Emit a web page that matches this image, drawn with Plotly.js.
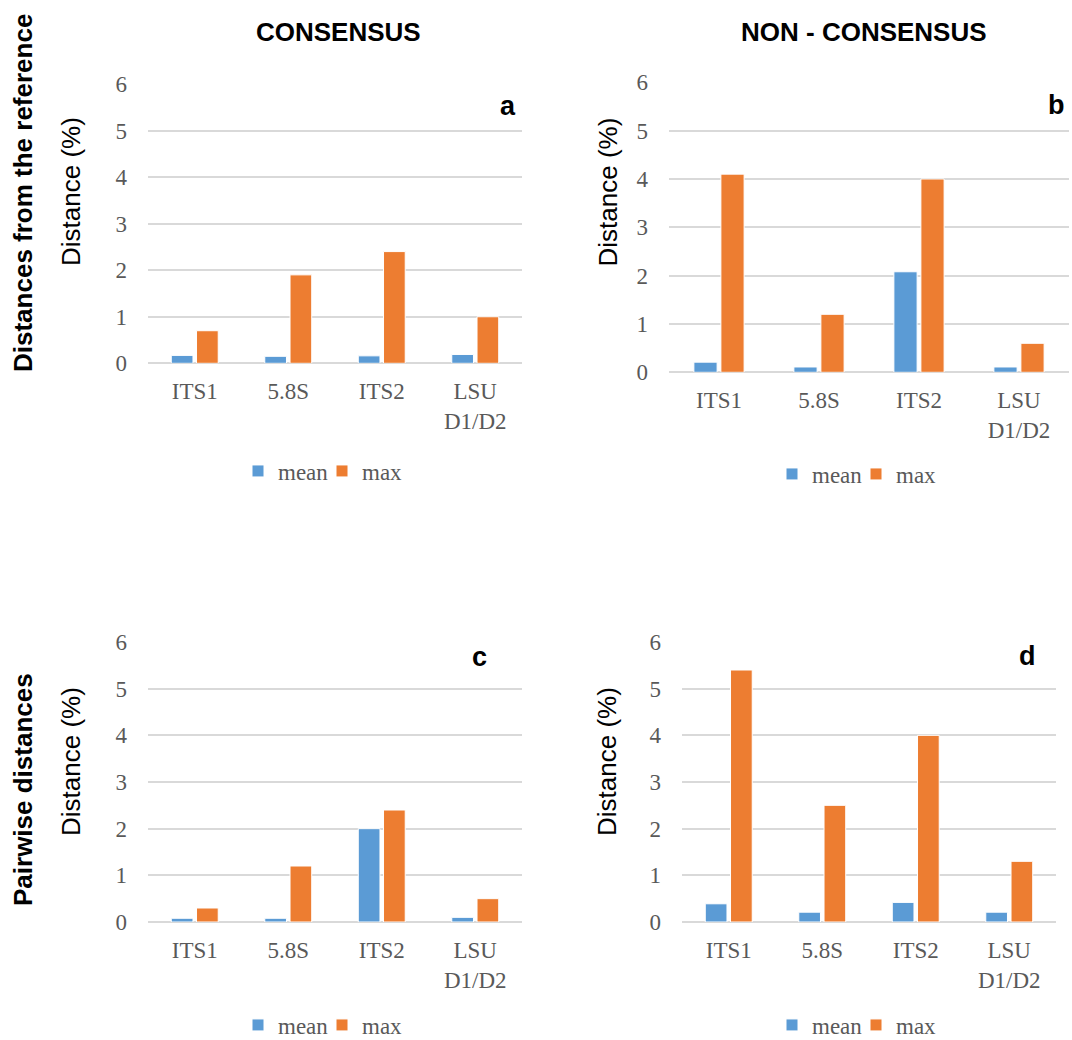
<!DOCTYPE html>
<html>
<head>
<meta charset="utf-8">
<script src="https://cdn.plot.ly/plotly-3.0.1.min.js"></script>
<style>
  html, body { margin: 0; padding: 0; background: #ffffff; }
  #chart { width: 1072px; height: 1040px; }
</style>
</head>
<body>
<div id="chart"></div>
<script>
// Regions of the rDNA cluster
const categories = ['ITS1', '5.8S', 'ITS2', 'LSU<br>D1/D2'];
const seriesNames = ['mean', 'max'];

// a: consensus, distances from the reference
const meanA = [0.17, 0.15, 0.16, 0.19];
const maxA  = [0.7, 1.9, 2.4, 1.0];
// b: non-consensus, distances from the reference
const meanB = [0.21, 0.11, 2.08, 0.11];
const maxB  = [4.1, 1.2, 4.0, 0.6];
// c: consensus, pairwise distances
const meanC = [0.08, 0.08, 2.0, 0.1];
const maxC  = [0.3, 1.2, 2.4, 0.5];
// d: non-consensus, pairwise distances
const meanD = [0.39, 0.21, 0.42, 0.21];
const maxD  = [5.4, 2.5, 4.0, 1.3];

const yTicks = [0, 1, 2, 3, 4, 5, 6];
const panelLetters = ['a', 'b', 'c', 'd'];
const columnTitles = ['CONSENSUS', 'NON - CONSENSUS'];
const rowTitles = ['Distances from the reference', 'Pairwise distances'];
const yTitle = 'Distance (%)';

const BLUE = '#5B9BD5';
const ORANGE = '#ED7D31';
const GRID = '#D9D9D9';
const TICK_GREY = '#595959';
const SERIF = '"Liberation Serif", "Times New Roman", serif';
const SANS = '"Liberation Sans", Arial, sans-serif';

const W = 1072, H = 1040;
const px = v => v / W;
const py = v => 1 - v / H;

// Plot areas in pixels: [left, right, top, bottom]; title = centre of the y-axis title
const panels = [
  { mean: meanA, max: maxA, box: [148, 522, 84, 363.3], legend: [322, 471], letter: [508, 106], title: [71, 192] },
  { mean: meanB, max: maxB, box: [669, 1069, 82.3, 372.3], legend: [856, 474], letter: [1056, 105], title: [607.5, 192] },
  { mean: meanC, max: maxC, box: [148, 522, 642, 922], legend: [322, 1025], letter: [479, 657], title: [71, 762] },
  { mean: meanD, max: maxD, box: [682, 1056, 642, 922], legend: [856, 1025], letter: [1027, 656], title: [607, 762] }
];

const traces = [];
const layout = {
  width: W, height: H,
  margin: { l: 0, r: 0, t: 0, b: 0, autoexpand: false },
  paper_bgcolor: '#ffffff',
  plot_bgcolor: '#ffffff',
  barmode: 'group',
  bargap: 0.46,
  bargroupgap: 0.14,
  font: { family: SERIF, size: 23, color: TICK_GREY },
  annotations: []
};

panels.forEach((p, i) => {
  const n = i + 1;
  const xa = n === 1 ? 'x' : 'x' + n;
  const ya = n === 1 ? 'y' : 'y' + n;
  const lg = n === 1 ? 'legend' : 'legend' + n;
  [p.mean, p.max].forEach((vals, k) => {
    traces.push({
      type: 'bar',
      name: seriesNames[k],
      x: categories,
      y: vals,
      xaxis: xa, yaxis: ya,
      legend: lg,
      marker: { color: k === 0 ? BLUE : ORANGE, line: { color: '#ffffff', width: 1 } },
      hoverinfo: 'x+y+name'
    });
  });

  const [l, r, t, b] = p.box;
  layout['xaxis' + (n === 1 ? '' : n)] = {
    domain: [px(l), px(r)],
    anchor: ya,
    type: 'category',
    showgrid: false,
    showline: false,
    zeroline: false,
    ticks: '',
    ticklabelstandoff: 12,
    tickfont: { family: SERIF, size: 23, color: TICK_GREY },
    fixedrange: true
  };
  layout['yaxis' + (n === 1 ? '' : n)] = {
    domain: [py(b), py(t)],
    anchor: xa,
    range: [0, 6],
    tickmode: 'array',
    tickvals: yTicks,
    ticktext: yTicks.map(String),
    showgrid: true,
    gridcolor: GRID,
    gridwidth: 1.5,
    zeroline: true,
    zerolinecolor: GRID,
    zerolinewidth: 1.5,
    showline: false,
    ticks: '',
    ticklabelstandoff: 20,
    tickfont: { family: SERIF, size: 23, color: TICK_GREY },
    fixedrange: true
  };
  layout[lg] = {
    orientation: 'h',
    x: px(p.legend[0]), xanchor: 'center',
    y: py(p.legend[1]), yanchor: 'middle',
    font: { family: SERIF, size: 23, color: TICK_GREY },
    bgcolor: 'rgba(0,0,0,0)',
    entrywidth: 39,
    entrywidthmode: 'pixels',
    itemclick: false, itemdoubleclick: false,
    traceorder: 'normal'
  };
  // y-axis title
  layout.annotations.push({
    text: yTitle,
    xref: 'paper', yref: 'paper',
    x: px(p.title[0]), y: py(p.title[1]),
    xanchor: 'center', yanchor: 'middle',
    textangle: -90,
    showarrow: false,
    font: { family: SANS, size: 26, color: '#000000' }
  });
  // panel letter
  layout.annotations.push({
    text: '<b>' + panelLetters[i] + '</b>',
    xref: 'paper', yref: 'paper',
    x: px(p.letter[0]), y: py(p.letter[1]),
    xanchor: 'center', yanchor: 'middle',
    showarrow: false,
    font: { family: SANS, size: 27, color: '#000000' }
  });
});

// Column headings
[[338, 32], [864, 32]].forEach((pos, j) => {
  layout.annotations.push({
    text: '<b>' + columnTitles[j] + '</b>',
    xref: 'paper', yref: 'paper',
    x: px(pos[0]), y: py(pos[1]),
    xanchor: 'center', yanchor: 'middle',
    showarrow: false,
    font: { family: SANS, size: 26, color: '#000000' }
  });
});

// Row headings
[[23, 193], [23, 790]].forEach((pos, j) => {
  layout.annotations.push({
    text: '<b>' + rowTitles[j] + '</b>',
    xref: 'paper', yref: 'paper',
    x: px(pos[0]), y: py(pos[1]),
    xanchor: 'center', yanchor: 'middle',
    textangle: -90,
    showarrow: false,
    font: { family: SANS, size: 26, color: '#000000' }
  });
});

Plotly.newPlot('chart', traces, layout, { displayModeBar: false });
</script>
</body>
</html>
